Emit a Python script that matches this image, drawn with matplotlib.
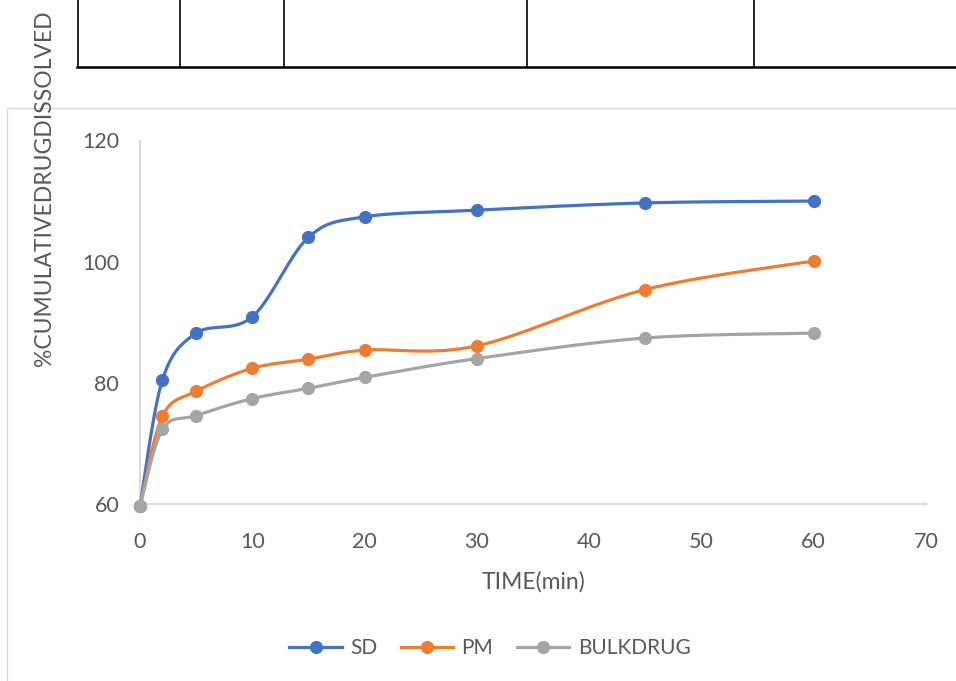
import numpy as np
import matplotlib
matplotlib.use("Agg")
import matplotlib.pyplot as plt
from matplotlib.lines import Line2D
from matplotlib.patches import Rectangle

plt.rcParams['font.family'] = ['Lato', 'DejaVu Sans']

# Dissolution data
time_min = [0, 2, 5, 10, 15, 20, 30, 45, 60]
sd = [59.6, 80.5, 88.2, 90.9, 104.0, 107.4, 108.5, 109.7, 110.0]
pm = [59.6, 74.5, 78.6, 82.4, 83.9, 85.4, 86.1, 95.4, 100.1]
bulk = [59.6, 72.3, 74.6, 77.4, 79.1, 80.9, 84.0, 87.4, 88.2]
series_names = ["SD", "PM", "BULKDRUG"]
colors = ["#4472C4", "#ED7D31", "#A5A5A5"]
x_ticks = [0, 10, 20, 30, 40, 50, 60, 70]
y_ticks = [60, 80, 100, 120]

TEXT = "#595959"
GRID = "#D9D9D9"


def smooth(x, y, n=40):
    """Cubic Bezier smoothing with Catmull-Rom style control points."""
    x = np.asarray(x, float)
    y = np.asarray(y, float)
    px = np.concatenate([[x[0]], x, [x[-1]]])
    py = np.concatenate([[y[0]], y, [y[-1]]])
    out_x, out_y = [], []
    t = np.linspace(0, 1, n)
    for i in range(1, len(px) - 2):
        p0 = np.array([px[i], py[i]])
        p3 = np.array([px[i + 1], py[i + 1]])
        c1 = p0 + (np.array([px[i + 1], py[i + 1]]) - np.array([px[i - 1], py[i - 1]])) / 6
        c2 = p3 - (np.array([px[i + 2], py[i + 2]]) - np.array([px[i], py[i]])) / 6
        b = ((1 - t) ** 3)[:, None] * p0 + (3 * (1 - t) ** 2 * t)[:, None] * c1 \
            + (3 * (1 - t) * t ** 2)[:, None] * c2 + (t ** 3)[:, None] * p3
        out_x.extend(b[:, 0])
        out_y.extend(b[:, 1])
    return out_x, out_y


fig = plt.figure(figsize=(9.56, 6.81), dpi=100)

# table rules above the chart
W, H = 956, 681
def fx(px):
    return px / W
def fy(py):
    return 1 - py / H

for vx in [78, 180, 284, 527, 754]:
    fig.add_artist(Line2D([fx(vx), fx(vx)], [fy(0), fy(67)], color="black", lw=1.2))
fig.add_artist(Line2D([fx(77), fx(956)], [fy(67), fy(67)], color="black", lw=1.8))

# chart frame
fig.add_artist(Rectangle((fx(7), fy(700)), fx(1000), fy(108) - fy(700),
                         fill=False, edgecolor=GRID, lw=1.0))

ax = fig.add_axes([140 / W, 1 - 504 / H, 786 / W, (504 - 140.5) / H])
ax.set_xlim(0, 70)
ax.set_ylim(60, 120)

for name, vals, c in zip(series_names, [sd, pm, bulk], colors):
    sx, sy = smooth(time_min, vals)
    ax.plot(sx, sy, color=c, lw=2.3, solid_capstyle="round", clip_on=False, zorder=3)
    ax.plot(time_min, vals, linestyle="none", marker="o", ms=8.5, color=c,
            clip_on=False, zorder=4)

for s in ["top", "right"]:
    ax.spines[s].set_visible(False)
for s in ["left", "bottom"]:
    ax.spines[s].set_color(GRID)
    ax.spines[s].set_linewidth(1.3)

ax.set_xticks(x_ticks)
ax.set_yticks(y_ticks)
ax.tick_params(length=0, labelsize=15.5, colors=TEXT)
ax.tick_params(axis="y", pad=15)
ax.tick_params(axis="x", pad=20)

ax.set_xlabel("TIME(min)", fontsize=16.5, color=TEXT, labelpad=14)
fig.text(fx(45), fy(188), "%CUMULATIVEDRUGDISSOLVED", rotation=90, fontsize=16.5,
         color=TEXT, ha="center", va="center")

handles = [Line2D([], [], color=c, lw=2.3, marker="o", ms=8.5) for c in colors]
leg = fig.legend(handles, series_names, loc="center", bbox_to_anchor=(fx(490), fy(648)),
                 ncol=3, frameon=False, fontsize=15, handlelength=2.5,
                 handletextpad=0.4, columnspacing=1.15)
for t in leg.get_texts():
    t.set_color(TEXT)

fig.savefig("out.png", dpi=100)
